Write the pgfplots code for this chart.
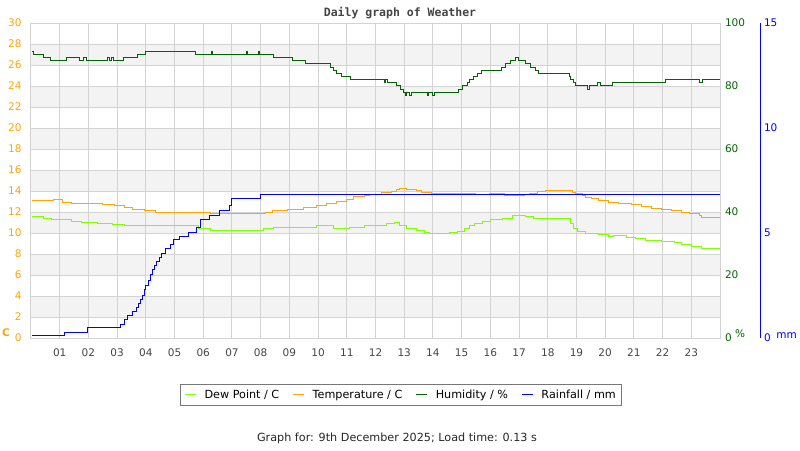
\documentclass[border=0pt]{standalone}
\usepackage{fontspec}
\setmainfont{DejaVu Sans}
\newfontfamily\monofont{DejaVu Sans Mono}
\usepackage{pgfplots}
\pgfplotsset{compat=1.18}

\definecolor{dewcol}{HTML}{80FF00}
\definecolor{tempcol}{HTML}{FFA500}
\definecolor{humcol}{HTML}{006400}
\definecolor{raincol}{HTML}{0000FF}
\definecolor{gridcol}{HTML}{D3D3D3}
\definecolor{stripe}{HTML}{F3F3F3}
\definecolor{ticktext}{HTML}{444444}
\definecolor{legframe}{HTML}{777777}

\pgfplotsset{
  wx/.style={
    at={(31pt,112pt)}, anchor=south west,
    scale only axis, width=689pt, height=315pt,
    xmin=0, xmax=24,
    major tick length=0pt,
    tick label style={font=\fontsize{10.5}{12}\selectfont},
    /pgf/number format/assume math mode=true,
  }
}

\begin{document}
\begin{tikzpicture}
\useasboundingbox (0,0) rectangle (800pt,450pt);

% alternating bands behind the grid
\foreach \b in {2,6,10,14,18,22,26}
  \fill[stripe] (31pt,{(112+\b*10.5)*1pt}) rectangle (720pt,{(112+(\b+2)*10.5)*1pt});

\begin{axis}[wx,
  ymin=0, ymax=30,
  xtick={1,...,23},
  xticklabels={01,02,03,04,05,06,07,08,09,10,11,12,13,14,15,16,17,18,19,20,21,22,23},
  ytick={0,2,...,30},
  grid=major, major grid style={gridcol, line width=1pt},
  axis line style={gridcol, line width=1pt},
  yticklabel style={tempcol, xshift=-6pt},
  xticklabel style={ticktext, yshift=-7pt},
  legend columns=4,
  legend style={at={(0.537,-0.18)}, anchor=center, draw=legframe, line width=1pt,
    font=\fontsize{11.2}{13}\selectfont, inner xsep=4pt, inner ysep=3.5pt,
    /tikz/every odd column/.append style={column sep=5.9pt},
    /tikz/every even column/.append style={column sep=11pt}},
  legend image code/.code={\draw[#1, line width=1.5pt] (0pt,0pt) -- (11pt,0pt);},
]
\addplot[dewcol, line width=1pt, const plot] coordinates {
 (0.05,11.55) (0.42,11.4) (0.71,11.3) (1.06,11.27) (1.40,11.14) (1.75,11.02)
 (2.33,10.92) (2.85,10.83) (3.25,10.73) (3.48,10.67) (4.0,10.73) (4.87,10.67)
 (5.39,10.73) (5.85,10.44) (6.26,10.25) (8.10,10.41) (8.45,10.5) (9.96,10.67)
 (10.53,10.45) (11.11,10.5) (11.63,10.67) (11.80,10.7) (12.38,10.86) (12.67,10.98)
 (12.84,10.67) (13.07,10.41) (13.42,10.22) (13.71,10.06) (13.88,9.97) (14.58,10.06)
 (14.86,10.19) (15.10,10.44) (15.27,10.7) (15.44,10.92) (15.73,11.08) (16.02,11.24)
 (16.42,11.4) (16.77,11.65) (17.23,11.55) (17.52,11.4) (18.79,10.92) (18.91,10.44)
 (19.02,10.19) (19.31,9.97) (19.77,9.81) (20.12,9.65) (20.29,9.75) (20.76,9.56)
 (21.05,9.43) (21.39,9.27) (21.97,9.17) (22.43,9.08) (22.66,8.95) (23.01,8.76)
 (23.36,8.51) (24,8.5)
};
\addlegendentry{Dew Point / C}
\addplot[tempcol, line width=1pt, const plot] coordinates {
 (0.05,13.08) (0.77,13.2) (1.09,12.92) (1.40,12.82) (2.50,12.73) (2.90,12.6)
 (3.25,12.44) (3.54,12.25) (3.94,12.1) (4.32,11.97) (6.26,11.87) (8.16,12.0)
 (8.40,12.13) (8.92,12.26) (9.49,12.44) (9.95,12.63) (10.30,12.82) (10.65,13.0)
 (11.0,13.2) (11.22,13.43) (11.63,13.56) (11.80,13.7) (12.21,13.84) (12.55,14.0)
 (12.73,14.15) (12.84,14.25) (13.07,14.15) (13.42,14.03) (13.59,13.9) (13.94,13.8)
 (15.50,13.68) (15.96,13.8) (16.48,13.57) (17.18,13.68) (17.35,13.8) (17.64,13.94)
 (17.93,14.03) (18.85,13.9) (18.97,13.8) (19.20,13.6) (19.31,13.4) (19.54,13.24)
 (19.77,13.08) (20.12,12.92) (20.47,12.79) (20.93,12.67) (21.28,12.5) (21.62,12.35)
 (21.97,12.25) (22.32,12.13) (22.66,11.97) (22.95,11.81) (23.30,11.65) (23.36,11.46)
 (24,11.5)
};
\addlegendentry{Temperature / C}
\addlegendimage{humcol}
\addlegendentry{Humidity / \%}
\addlegendimage{raincol}
\addlegendentry{Rainfall / mm}
\end{axis}

\begin{axis}[wx,
  ymin=0, ymax=100,
  axis x line=none, axis y line*=right,
  y axis line style={draw=none},
  ytick={0,20,...,100},
  yticklabel style={humcol, xshift=1.5pt},
]
\addplot[humcol, line width=1pt, const plot] coordinates {
 (0.05,91) (0.09,90) (0.44,89) (0.69,88) (1.25,89) (1.69,88) (1.84,89) (1.92,88)
 (2.65,89) (2.72,88) (2.82,89) (2.88,88) (3.22,89) (3.70,90) (3.98,91) (5.74,90)
 (6.27,91) (6.31,90) (7.50,91) (7.54,90) (7.92,91) (7.96,90) (8.45,89) (9.12,88)
 (9.56,87) (10.44,86) (10.55,85) (10.65,84) (10.83,83) (11.12,82) (12.30,81)
 (12.34,82) (12.43,81) (12.74,80) (12.87,79) (12.98,78) (13.05,77) (13.09,78)
 (13.20,77) (13.24,78) (13.80,77) (13.84,78) (14.00,77) (14.04,78) (14.88,79)
 (15.03,80) (15.19,81) (15.27,82) (15.42,83) (15.56,84) (15.69,85) (16.39,86)
 (16.54,87) (16.69,88) (16.86,89) (16.98,88) (17.23,87) (17.41,86) (17.56,85)
 (17.67,84) (18.75,83) (18.80,82) (18.91,81) (18.97,80) (19.40,79) (19.45,80)
 (19.72,81) (19.85,80) (20.24,81) (22.11,82) (23.30,81) (23.40,82) (24,82)
};
\end{axis}

\begin{axis}[wx,
  ymin=0, ymax=15,
  axis x line=none, axis y line*=right,
  y axis line style={raincol, line width=1pt, -, xshift=40.5pt},
  ytick={0,5,10,15},
  yticklabel style={raincol, xshift=40.5pt},
]
\addplot[raincol, line width=1pt, const plot] coordinates {
 (0.05,0.1) (1.17,0.27) (1.96,0.48) (3.11,0.65) (3.25,0.86) (3.37,1.08) (3.54,1.25)
 (3.69,1.46) (3.75,1.65) (3.83,1.84) (3.89,2.03) (3.94,2.32) (4.00,2.52) (4.08,2.76)
 (4.15,3.0) (4.22,3.24) (4.29,3.43) (4.38,3.63) (4.46,3.83) (4.56,4.03) (4.67,4.27)
 (4.85,4.46) (4.98,4.67) (5.16,4.83) (5.47,5.03) (5.77,5.27) (5.89,5.65) (6.23,5.84)
 (6.58,6.05) (6.90,6.33) (6.97,6.62) (7.99,6.84) (24,6.84)
};
\end{axis}

\node[font=\monofont\bfseries\fontsize{11.5}{13}\selectfont, text=ticktext] at (400pt,437pt) {Daily graph of Weather};
\node[font=\bfseries\fontsize{10.5}{12}\selectfont, text=tempcol] at (6pt,117pt) {C};
\node[font=\fontsize{10.5}{12}\selectfont, text=humcol] at (740pt,116pt) {\%};
\node[font=\fontsize{10.5}{12}\selectfont, text=raincol] at (786.5pt,114pt) {mm};
\node[font=\fontsize{11.2}{13}\selectfont, text=black!85] at (397pt,12pt) {Graph for: 9th December 2025; Load time: 0.13 s};
\end{tikzpicture}
\end{document}
